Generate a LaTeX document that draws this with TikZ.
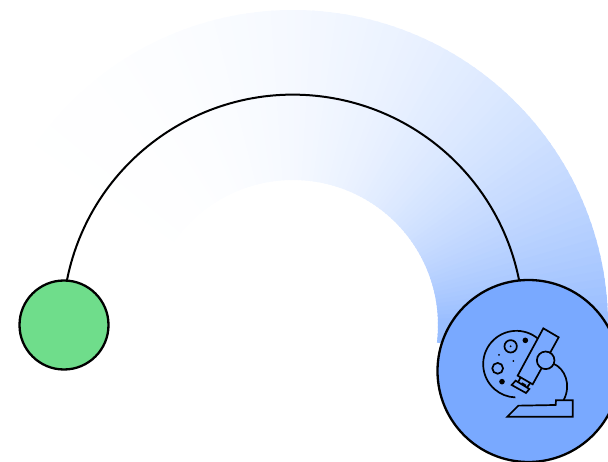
\documentclass[tikz,border=0pt]{standalone}
\usepackage{tikz}
\definecolor{dotgreen}{HTML}{6FDD8B}
\definecolor{scopeblue}{HTML}{79A9FF}
\tikzstyle{bigdot} = [circle,draw=black,line width=2.3pt,inner sep=0pt]
\tikzstyle{iconline} = [draw=black,line width=1.7pt,line join=miter]
\tikzstyle{iconfill} = [iconline,fill=scopeblue]

\begin{document}
\begin{tikzpicture}[x=1pt,y=1pt]
\useasboundingbox (0,0) rectangle (608,461);
% band, colour runs with the angle
\begin{scope}[shift={(293,136)}]
\foreach \a in {176,174.5,...,-8}{
	\pgfmathsetmacro{\p}{\a>0 ? 76*(1-\a/176)^3.3 : 76}
	\pgfmathsetmacro{\b}{\a+2}
	\fill[scopeblue!\p!white] (\a:145pt) arc[start angle=\a,end angle=\b,radius=145pt]
		-- (\b:315pt) arc[start angle=\b,end angle=\a,radius=315pt] -- cycle;
}
\end{scope}
\coordinate (arcstart) at (67,181);
\draw[line width=2pt] (arcstart) arc[start angle=168.7,end angle=11.3,radius=230.5pt];
\node[bigdot,fill=dotgreen,minimum size=89pt] (source) at (64,136) {};
\node[bigdot,fill=scopeblue,minimum size=182pt] (scopedot) at (528.5,90) {};
% microscope, in pixels of the 3x crop
\begin{scope}[shift={(470,146)},x=0.3333pt,y=-0.3333pt]
\draw[iconline] (205,72) arc[start angle=49,end angle=268,radius=33.3pt];
\draw[iconline] (250,146) .. controls (285,160) and (305,210) .. (281,255);
\draw[iconfill] (112,305) -- (145,272) -- (257,270) -- (258,256) -- (308,256) -- (308,305) -- cycle;
\draw[iconline] (152,186) -- (143,205) (180,205) -- (168,222) (155,204) -- (168,212);
\draw[iconfill] (220,40) -- (266,67) -- (188,208) -- (143,182) -- cycle;
\draw[iconfill] (137,197) -- (178,222) -- (168,234) -- (125,210) -- cycle;
\draw[iconfill] (227,136) circle[radius=8.8pt];
\draw[iconline] (122,94) circle[radius=6.2pt];
\draw[iconline] (83,160) circle[radius=5.4pt];
\fill (166,76) circle[radius=2.8pt];
\fill (96,200) circle[radius=2.8pt];
\fill (122,94) circle[radius=1pt];
\fill (87,120) circle[radius=1pt];
\fill (130,138) circle[radius=1pt];
\end{scope}
\end{tikzpicture}
\end{document}
